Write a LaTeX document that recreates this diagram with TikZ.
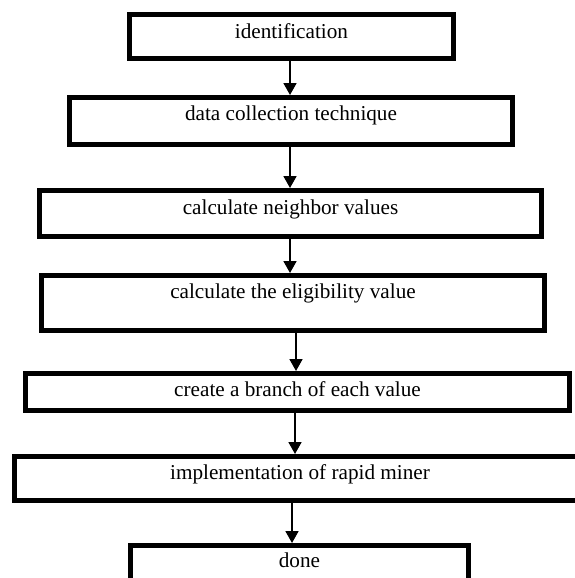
\documentclass[tikz,border=0pt]{standalone}
\usepackage{fontspec}
\setmainfont{Liberation Serif}
\usetikzlibrary{arrows.meta}
\begin{document}
\begin{tikzpicture}[x=1pt,y=-1pt,
  stepbox/.style={draw=black,line width=5pt,rectangle,inner sep=0pt,fill=white},
  steptext/.style={anchor=base,inner sep=0pt,font=\fontsize{21.2}{25}\selectfont},
  arr/.style={line width=1.8pt,-{Triangle[width=13pt,length=12pt]}}]
\useasboundingbox (0,0) rectangle (575,578);
\fill[white] (0,0) rectangle (575,578);
\node[stepbox,minimum width=324pt,minimum height=44pt] (b1) at (291.5,36.5) {};
\node[stepbox,minimum width=443pt,minimum height=47pt] (b2) at (291,121) {};
\node[stepbox,minimum width=502pt,minimum height=46pt] (b3) at (290.5,213.5) {};
\node[stepbox,minimum width=503pt,minimum height=55pt] (b4) at (293,303) {};
\node[stepbox,minimum width=544pt,minimum height=37pt] (b5) at (297.5,392) {};
\node[stepbox,minimum width=571pt,minimum height=44pt] (b6) at (300,478.5) {};
\node[stepbox,minimum width=338pt,minimum height=41pt] (b7) at (299.5,566) {};
\node[steptext] (t1) at (291.5,38) {identification};
\node[steptext] (t2) at (291,120) {data collection technique};
\node[steptext] (t3) at (290.5,214) {calculate neighbor values};
\node[steptext] (t4) at (293,298) {calculate the eligibility value};
\node[steptext] (t5) at (297.5,396) {create a branch of each value};
\node[steptext] (t6) at (300,479) {implementation of rapid miner};
\node[steptext] (t7) at (299.5,567) {done};
\coordinate (c1) at (290,0);
\coordinate (c2) at (290,0);
\coordinate (c3) at (290,0);
\coordinate (c4) at (296,0);
\coordinate (c5) at (295,0);
\coordinate (c6) at (292,0);
\draw[arr] (b1.south -| c1) -- (b2.north -| c1);
\draw[arr] (b2.south -| c2) -- (b3.north -| c2);
\draw[arr] (b3.south -| c3) -- (b4.north -| c3);
\draw[arr] (b4.south -| c4) -- (b5.north -| c4);
\draw[arr] (b5.south -| c5) -- (b6.north -| c5);
\draw[arr] (b6.south -| c6) -- (b7.north -| c6);
\end{tikzpicture}
\end{document}
